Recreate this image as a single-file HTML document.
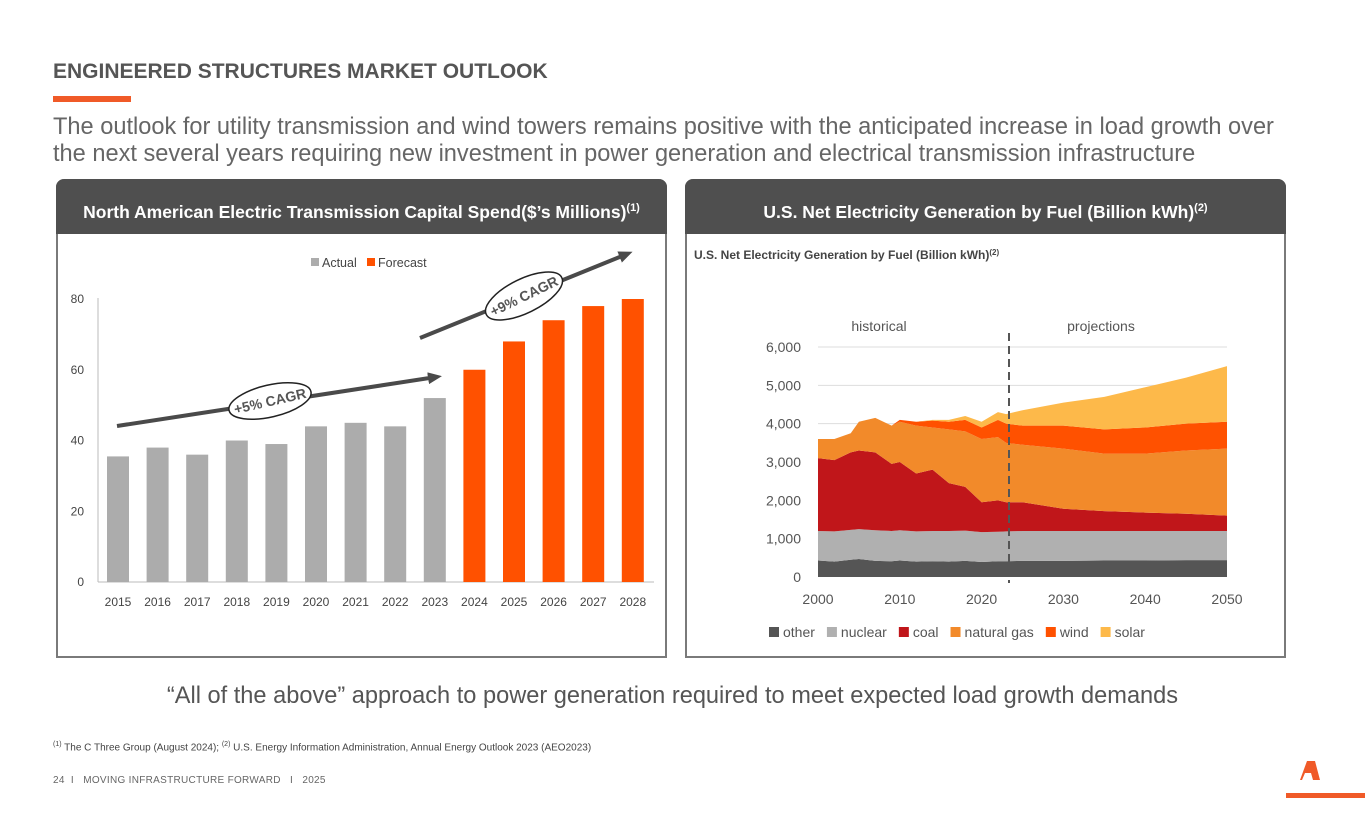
<!DOCTYPE html>
<html><head><meta charset="utf-8">
<style>
body{margin:0;width:1365px;height:829px;background:#fff;font-family:"Liberation Sans",sans-serif;position:relative;overflow:hidden}
.abs{position:absolute}
.panel{position:absolute;top:179px;height:479px;border:2px solid #7a7a7a;border-top:none;border-radius:8px 8px 0 0;box-sizing:border-box}
.ph{position:absolute;left:-2px;right:-2px;top:0;height:55px;background:#4f4f4f;border-radius:8px 8px 0 0;color:#fff;font-weight:bold;font-size:17.5px;text-align:center;line-height:58px}
</style></head><body>
<div class="abs" style="left:53px;top:60px;font-size:21px;font-weight:bold;color:#555">ENGINEERED STRUCTURES MARKET OUTLOOK</div>
<div class="abs" style="left:53px;top:96px;width:78px;height:6px;background:#f05a28"></div>
<div class="abs" style="left:53px;top:114px;font-size:23.6px;color:#666;line-height:27px;width:1248px;white-space:normal">The outlook for utility transmission and wind towers remains positive with the anticipated increase in load growth over<br>the next several years requiring new investment in power generation and electrical transmission infrastructure</div>

<div class="panel" style="left:56px;width:611px"><div class="ph">North American Electric Transmission Capital Spend($’s Millions)<sup style="font-size:11px">(1)</sup></div></div>
<div class="panel" style="left:685px;width:601px"><div class="ph">U.S. Net Electricity Generation by Fuel (Billion kWh)<sup style="font-size:11px">(2)</sup></div></div>

<svg class="abs" style="left:0;top:0" width="1365" height="829" id="svg">
<defs><marker id="ah" markerUnits="userSpaceOnUse" markerWidth="14" markerHeight="12" refX="8" refY="6" orient="auto"><path d="M0,0 L14,6 L0,12 z" fill="#4a4a4a"/></marker></defs>
<g id="left"></g><g id="right"></g>
</svg>

<div class="abs" style="left:-10px;width:1365px;top:683px;text-align:center;font-size:23.6px;color:#555">“All of the above” approach to power generation required to meet expected load growth demands</div>
<div class="abs" style="left:53px;top:741px;font-size:10px;color:#444"><sup style="font-size:7px">(1)</sup> The C Three Group (August 2024); <sup style="font-size:7px">(2)</sup> U.S. Energy Information Administration, Annual Energy Outlook 2023 (AEO2023)</div>
<div class="abs" style="left:53px;top:775px;font-size:10px;color:#666;letter-spacing:0.3px">24 &nbsp;I &nbsp; MOVING INFRASTRUCTURE FORWARD &nbsp; I &nbsp; 2025</div>
<svg class="abs" style="left:1280px;top:755px" width="85" height="45">
<path d="M20,25 L27,6 L35,6 L40,25 L33,25 L31,18 L25,18 L22,25 Z" fill="#f05a28"/>
<rect x="6" y="38" width="79" height="5" fill="#f05a28"/></svg>

<script>
const NS="http://www.w3.org/2000/svg";
function mk(p,t,a){const e=document.createElementNS(NS,t);for(const k in a)e.setAttribute(k,a[k]);p.appendChild(e);return e;}
// Left chart data
const barYears=["2015","2016","2017","2018","2019","2020","2021","2022","2023","2024","2025","2026","2027","2028"];
const barValues=[35.5,38,36,40,39,44,45,44,52,60,68,74,78,80];
const barIsForecast=[0,0,0,0,0,0,0,0,0,1,1,1,1,1];
const leftTicks=[0,20,40,60,80];
// Right chart data
const genYears=[2000,2002,2004,2005,2007,2009,2010,2012,2014,2016,2018,2020,2022,2023,2025,2030,2035,2040,2045,2050];
const genOther=[430,400,450,470,420,410,430,400,410,400,420,390,410,410,420,420,430,430,440,440];
const genNuclear=[770,790,780,780,800,790,790,790,790,800,790,780,770,780,780,780,770,770,760,760];
const genCoal=[1900,1860,2020,2050,2030,1750,1780,1510,1600,1250,1140,780,820,760,750,580,520,480,450,400];
const genGas=[500,550,500,750,900,1000,1050,1250,1100,1400,1450,1650,1650,1550,1500,1570,1500,1540,1650,1750];
const genWind=[0,0,0,0,0,0,50,100,180,200,300,300,450,500,500,600,630,680,700,700];
const genSolar=[0,0,0,0,0,0,0,0,20,50,100,150,200,250,400,600,850,1050,1200,1450];
const rightTicks=[0,1000,2000,3000,4000,5000,6000];
const rightXTicks=[2000,2010,2020,2030,2040,2050];

const L=document.getElementById('left');
const ly=v=>582-v*(283/80), lx=i=>118+i*39.6;
leftTicks.forEach(t=>{const e=mk(L,'text',{x:84,y:ly(t)+4,'text-anchor':'end','font-size':12,fill:'#444'});e.textContent=t;

});
mk(L,'line',{x1:98,x2:98,y1:298,y2:582,stroke:'#bbb'});
mk(L,'line',{x1:98,x2:654,y1:582,y2:582,stroke:'#bbb'});
barValues.forEach((v,i)=>{const r=mk(L,'rect',{x:lx(i)-11,y:ly(v),width:22,height:582-ly(v),fill:barIsForecast[i]?'#ff5100':'#acacac'});


const t=mk(L,'text',{x:lx(i),y:606,'text-anchor':'middle','font-size':12,fill:'#444'});t.textContent=barYears[i];

});
// legend
mk(L,'rect',{x:311,y:258,width:8,height:8,fill:'#acacac'});
let t=mk(L,'text',{x:322,y:267,'font-size':12.5,fill:'#444'});t.textContent='Actual';
mk(L,'rect',{x:367,y:258,width:8,height:8,fill:'#ff5100'});
t=mk(L,'text',{x:378,y:267,'font-size':12.5,fill:'#444'});t.textContent='Forecast';
// arrows
mk(L,'line',{x1:117,y1:426,x2:436,y2:377,stroke:'#4a4a4a','stroke-width':4,'marker-end':'url(#ah)'});
mk(L,'line',{x1:420,y1:338,x2:627,y2:254,stroke:'#4a4a4a','stroke-width':4,'marker-end':'url(#ah)'});
let g=mk(L,'g',{transform:'translate(270,401) rotate(-13)'});
mk(g,'ellipse',{cx:0,cy:0,rx:42,ry:16,fill:'#fff',stroke:'#222','stroke-width':1.5});
t=mk(g,'text',{x:0,y:5,'text-anchor':'middle','font-size':14,'font-weight':'bold',fill:'#555'});t.textContent='+5% CAGR';
g=mk(L,'g',{transform:'translate(524,296) rotate(-26)'});
mk(g,'ellipse',{cx:0,cy:0,rx:42,ry:17,fill:'#fff',stroke:'#222','stroke-width':1.5});
t=mk(g,'text',{x:0,y:5,'text-anchor':'middle','font-size':14,'font-weight':'bold',fill:'#555'});t.textContent='+9% CAGR';

// Right chart
const R=document.getElementById('right');
const rx=y=>818+(y-2000)*(409/50), ry=v=>577-v*(230/6000);
t=mk(R,'text',{x:694,y:259,'font-size':12,'font-weight':'bold',fill:'#444'});t.innerHTML='U.S.  Net Electricity Generation by Fuel (Billion kWh)<tspan font-size="8" dy="-4">(2)</tspan>';
rightTicks.forEach(v=>{if(v>0)mk(R,'line',{x1:818,x2:1227,y1:ry(v),y2:ry(v),stroke:'#ddd'});
const e=mk(R,'text',{x:801,y:ry(v)+5,'text-anchor':'end','font-size':14,fill:'#555'});e.textContent=v.toLocaleString('en-US');

});
rightXTicks.forEach(y=>{const e=mk(R,'text',{x:rx(y),y:604,'text-anchor':'middle','font-size':14,fill:'#555'});e.textContent=y;

});
const series=[['other',genOther,'#555555'],['nuclear',genNuclear,'#b0b0b0'],['coal',genCoal,'#c0161a'],['natural gas',genGas,'#f28a2a'],['wind',genWind,'#ff5100'],['solar',genSolar,'#fdb94a']];
let base=genYears.map(()=>0);
series.forEach(([n,vals,c])=>{const top=base.map((b,i)=>b+vals[i]);
let d='M'+genYears.map((y,i)=>rx(y)+','+ry(top[i])).join(' L');
for(let i=genYears.length-1;i>=0;i--)d+=' L'+rx(genYears[i])+','+ry(base[i]);
const p=mk(R,'path',{d:d+'Z',fill:c});


base=top;});
mk(R,'line',{x1:1009,x2:1009,y1:333,y2:583,stroke:'#555','stroke-width':2,'stroke-dasharray':'8,5'});
t=mk(R,'text',{x:879,y:331,'text-anchor':'middle','font-size':14,fill:'#555'});t.textContent='historical';
t=mk(R,'text',{x:1101,y:331,'text-anchor':'middle','font-size':14,fill:'#555'});t.textContent='projections';
let lxp=769;
series.forEach(([n,v,c])=>{mk(R,'rect',{x:lxp,y:627,width:10,height:10,fill:c});
const e=mk(R,'text',{x:lxp+14,y:637,'font-size':14,fill:'#555'});e.textContent=n;


lxp+=14+e.getComputedTextLength()+12;});
</script>
</body></html>
